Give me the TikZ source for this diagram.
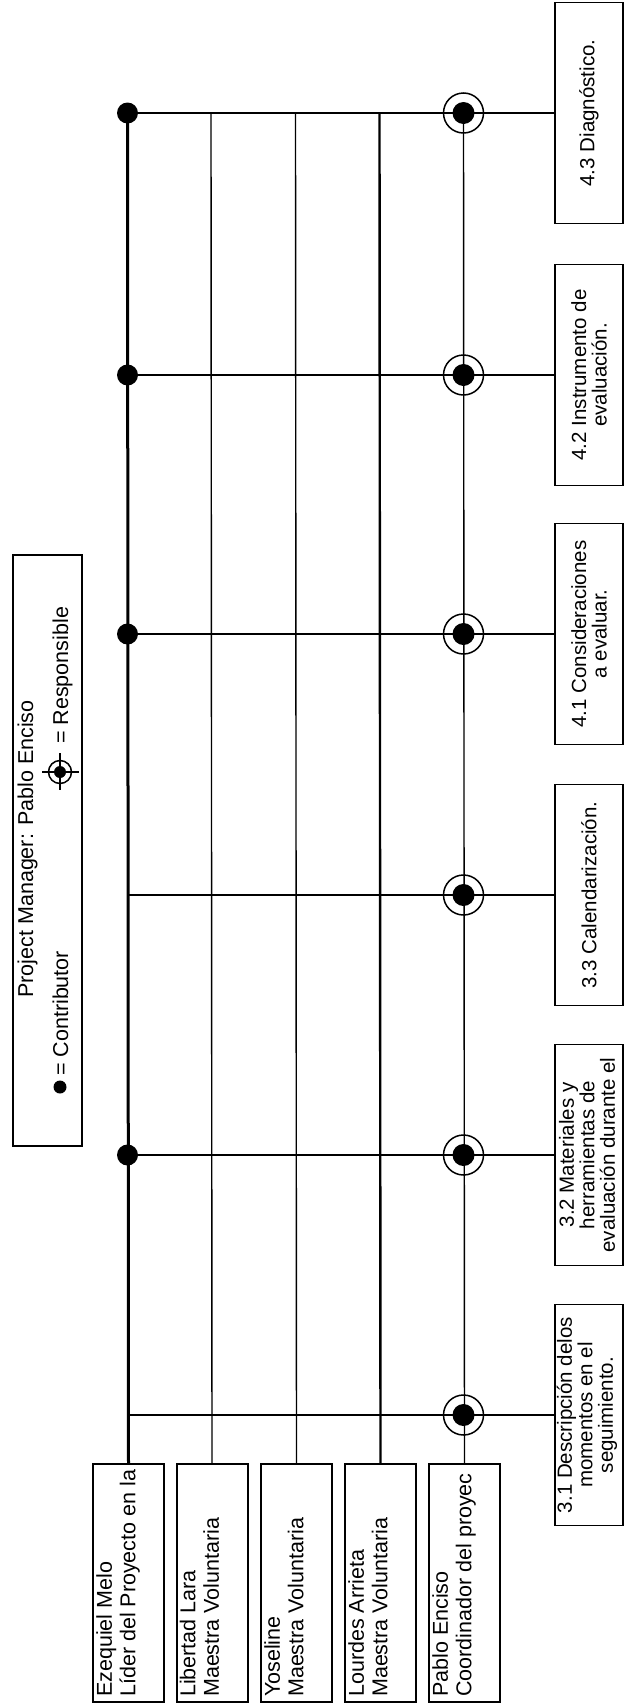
\documentclass[tikz,border=0pt]{standalone}
\usepackage{fontspec}
\setmainfont{Liberation Sans}
\begin{document}
\begin{tikzpicture}[x=1pt,y=-1pt,
  lbl/.style={font=\fontsize{21.5}{23.5}\selectfont, inner sep=0pt, rotate=90},
  tlbl/.style={font=\fontsize{20.5}{20.5}\selectfont, inner sep=0pt, rotate=90, align=center},
  pbox/.style={draw, line width=2pt, minimum width=71pt, minimum height=238pt, inner sep=0pt, anchor=north west},
  tbox/.style={draw, line width=1.6pt, minimum width=68pt, minimum height=221pt, inner sep=0pt, anchor=west},
  hline/.style={line width=1.4pt},
  thickcol/.style={line width=3pt},
  midcol/.style={line width=2.4pt},
  thincol/.style={line width=1.4pt},
  contrib/.style={circle, fill=black, inner sep=0pt, minimum size=21pt},
  respring/.style={circle, draw, line width=1.5pt, inner sep=0pt, minimum size=40pt},
  respdot/.style={circle, fill=black, inner sep=0pt, minimum size=22pt}
]
\useasboundingbox (0,0) rectangle (624,1705);

% person boxes
\node[pbox] (pE) at (92,1463) {};
\node[pbox] (pL) at (175.5,1463) {};
\node[pbox] (pY) at (260,1463) {};
\node[pbox] (pA) at (344,1463) {};
\node[pbox] (pP) at (428,1463) {};

\node[lbl, align=left, anchor=north west] at (96,1697) {Ezequiel Melo\\Líder del Proyecto en la};
\node[lbl, align=left, anchor=north west] at (179.5,1697) {Libertad Lara\\Maestra Voluntaria};
\node[lbl, align=left, anchor=north west] at (264,1697) {Yoseline\\Maestra Voluntaria};
\node[lbl, align=left, anchor=north west] at (348,1697) {Lourdes Arrieta\\Maestra Voluntaria};
\node[lbl, align=left, anchor=north west] at (432,1697) {Pablo Enciso\\Coordinador del proyec};

% task boxes
\node[tbox] (t43) at (554,113) {};
\node[tbox] (t42) at (554,375) {};
\node[tbox] (t41) at (554,634) {};
\node[tbox] (t33) at (554,895) {};
\node[tbox] (t32) at (554,1155) {};
\node[tbox] (t31) at (554,1415) {};

\node[tlbl] at (589,113) {4.3 Diagnóstico.};
\node[tlbl] at (589,375) {4.2 Instrumento de\\evaluación.};
\node[tlbl] at (589,634) {4.1 Consideraciones\\a evaluar.};
\node[tlbl] at (589,895) {3.3 Calendarización.};
\node[tlbl] at (587,1155) {3.2 Materiales y\\herramientas de\\evaluación durante el};
\node[tlbl] at (587,1415) {3.1 Descripción delos\\momentos en el\\seguimiento.};

% column tops
\coordinate (cE) at (127.5,113);
\coordinate (cL) at (211,113);
\coordinate (cY) at (295.5,113);
\coordinate (cA) at (379.5,113);
\coordinate (cP) at (463.5,113);

\draw[thickcol] (cE) -- (pE.north);
\draw[thincol] (cL) -- (pL.north);
\draw[thincol] (cY) -- (pY.north);
\draw[midcol] (cA) -- (pA.north);
\draw[thincol] (cP) -- (pP.north);

% row starts
\coordinate (r43) at (127.5,113);
\coordinate (r42) at (127.5,375);
\coordinate (r41) at (127.5,634);
\coordinate (r33) at (127.5,895);
\coordinate (r32) at (127.5,1155);
\coordinate (r31) at (127.5,1415);

\draw[hline] (r43) -- (t43.west);
\draw[hline] (r42) -- (t42.west);
\draw[hline] (r41) -- (t41.west);
\draw[hline] (r33) -- (t33.west);
\draw[hline] (r32) -- (t32.west);
\draw[hline] (r31) -- (t31.west);

% contributor dots (Ezequiel)
\node[contrib] (d43) at (127.5,113) {};
\node[contrib] (d42) at (127.5,375) {};
\node[contrib] (d41) at (127.5,634) {};
\node[contrib] (d32) at (127.5,1155) {};

% responsible marks (Pablo)
\foreach \yy/\nm in {113/43,375/42,634/41,895/33,1155/32,1415/31}{
  \node[respring] (ring\nm) at (463.5,\yy) {};
  \node[respdot] (rdot\nm) at (463.5,\yy) {};
}

% legend
\node[draw, line width=1.6pt, minimum width=69pt, minimum height=591pt, inner sep=0pt, anchor=north west] (legend) at (12,554) {};
\node[lbl, anchor=base] (pm) at (33,849) {Project Manager: Pablo Enciso};
\node[circle, fill=black, inner sep=0pt, minimum size=13pt] (ldot) at (60,1087) {};
\node[lbl, anchor=base west] (lc) at (68,1076) {= Contributor};
\node[circle, draw, line width=1.5pt, inner sep=0pt, minimum size=23pt] (lring) at (60,772) {};
\node[circle, fill=black, inner sep=0pt, minimum size=12pt] (lrdot) at (60,772) {};
\coordinate (lx1) at (42,772);
\coordinate (lx2) at (79,772);
\coordinate (ly1) at (60,753);
\coordinate (ly2) at (60,790);
\draw[line width=1.5pt] (lx1) -- (lx2);
\draw[line width=1.5pt] (ly1) -- (ly2);
\node[lbl, anchor=base west] (lr) at (68,744) {= Responsible};
\end{tikzpicture}
\end{document}
